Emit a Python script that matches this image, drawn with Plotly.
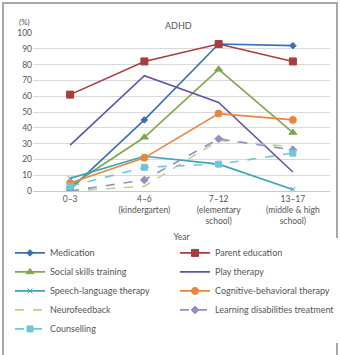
import plotly.graph_objects as go

categories = ["0–3", "4–6<br>(kindergarten)", "7–12<br>(elementary<br>school)", "13–17<br>(middle & high<br>school)"]
series_names = ["Medication", "Parent education", "Social skills training", "Play therapy",
                "Speech-language therapy", "Cognitive-behavioral therapy", "Neurofeedback",
                "Learning disabilities treatment", "Counselling"]
medication = [1, 45, 93, 92]
parent_education = [61, 82, 93, 82]
social_skills = [3, 34, 77, 37]
play_therapy = [29, 73, 56, 12]
speech_language = [8, 22, 17, 1]
cbt = [5, 21, 49, 45]
neurofeedback = [0, 3, 32, 28]
learning_dis = [0, 7, 33, 26]
counselling = [3, 15, 17, 24]
y_ticks = list(range(0, 101, 10))

values = [medication, parent_education, social_skills, play_therapy, speech_language,
          cbt, neurofeedback, learning_dis, counselling]
colors = ["#3a6fb0", "#a53e3e", "#7ea84c", "#6b519d", "#3da2ba", "#ec8440",
          "#b6d58e", "#9390c2", "#6ec7d8"]
dashes = ["solid"] * 6 + ["dash"] * 3
symbols = ["diamond", "square", "triangle-up", "circle", "x-thin", "circle",
           "circle", "diamond", "square"]
msizes = [5, 7, 7, 0, 5, 7, 0, 6, 6]

font = "Lato, 'DejaVu Sans', sans-serif"
fig = go.Figure()
for name, v, c, d, s, ms in zip(series_names, values, colors, dashes, symbols, msizes):
    fig.add_trace(go.Scatter(
        x=categories, y=v, name=name, mode="lines+markers" if ms else "lines",
        line=dict(color=c, width=1.6, dash=d),
        marker=dict(symbol=s, size=ms, color=c, line=dict(color=c, width=1)),
    ))

fig.update_layout(
    width=340, height=355,
    margin=dict(l=33, r=10, t=33, b=164),
    paper_bgcolor="white", plot_bgcolor="white",
    font=dict(family=font, size=8.5, color="#555555"),
    showlegend=True,
    legend=dict(orientation="h", x=-0.07, y=-0.30, xanchor="left", yanchor="top",
                entrywidth=120, entrywidthmode="pixels",
                font=dict(size=9, color="#555555"), itemwidth=30,
                tracegroupgap=0, itemsizing="trace"),
    xaxis=dict(type="category", range=[-0.5, 3.5], showgrid=False,
               showline=True, linecolor="#c8c8c8", ticks="outside", ticklen=0,
               tickfont=dict(size=8.5, color="#555555"),
               title=dict(text="Year", font=dict(size=8.5, color="#555555"), standoff=8)),
    yaxis=dict(range=[0, 100], tickvals=y_ticks, showgrid=True, gridcolor="#d9d9d9",
               gridwidth=1, zeroline=False, ticks="", tickfont=dict(size=8.5, color="#555555")),
    annotations=[
        dict(text="ADHD", xref="paper", yref="paper", x=0.49, y=1.095, showarrow=False,
             font=dict(size=9, color="#555555")),
        dict(text="(%)", xref="paper", yref="paper", x=-0.055, y=1.115, showarrow=False,
             font=dict(size=8, color="#555555")),
    ],
    shapes=[dict(type="rect", xref="paper", yref="paper",
                 x0=(3 - 33) / 297, x1=(337 - 33) / 297,
                 y0=(191 - 360) / 158, y1=(191 - 3) / 158,
                 line=dict(color="#a8a8a8", width=2), fillcolor="rgba(0,0,0,0)", layer="below")],
)
fig.write_html("out.html")
